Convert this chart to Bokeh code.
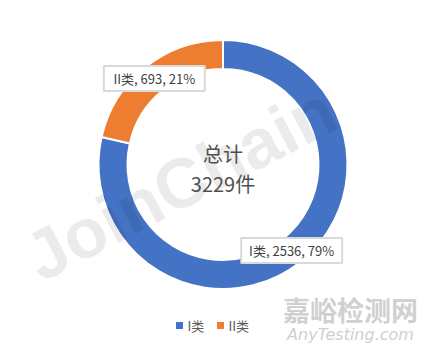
import math
from bokeh.plotting import figure
from bokeh.models import Range1d
from bokeh.core.properties import value
from bokeh.embed import file_html
from bokeh.resources import INLINE

# ---- data ----
categories = ["I类", "II类"]
counts = [2536, 693]
colors = ["#4472C4", "#ED7D31"]
center_title = "总计"
center_unit = "件"

total = sum(counts)
fracs = [c / total for c in counts]

W, H = 431, 351
CX, CY = 222.5, H - 164.0
R_OUT, R_IN = 124.5, 95.5
R_LAB = 110.0

p = figure(width=W, height=H, output_backend="svg", toolbar_location=None,
           x_range=Range1d(0, W), y_range=Range1d(0, H),
           x_axis_type=None, y_axis_type=None, min_border=0)
p.outline_line_color = None
p.grid.visible = False
p.background_fill_color = "white"
p.border_fill_color = "white"

# wedges: start at 12 o'clock, go clockwise
starts, ends, mids = [], [], []
cum = 0.0
for f in fracs:
    a0 = math.pi / 2 - 2 * math.pi * cum
    a1 = math.pi / 2 - 2 * math.pi * (cum + f)
    starts.append(a0)
    ends.append(a1)
    mids.append((a0 + a1) / 2)
    cum += f

p.annular_wedge(x=[CX] * len(counts), y=[CY] * len(counts),
                inner_radius=R_IN, outer_radius=R_OUT,
                start_angle=starts, end_angle=ends, direction="clock",
                fill_color=colors, line_color="white", line_width=2)

# watermark JoinChain
p.text(x=[180], y=[H - 183], text=["JoinChain"], angle=math.radians(27.5),
       text_font=value("Liberation Sans"), text_font_style="bold",
       text_font_size="70px", text_color="black", text_alpha=0.08,
       text_align="center", text_baseline="middle")

# data labels
lab_x = [CX + R_LAB * math.cos(a) for a in mids]
lab_y = [CY + R_LAB * math.sin(a) for a in mids]
lab_txt = [f"{c}, {v}, {round(100 * v / total)}%" for c, v in zip(categories, counts)]
p.rect(x=lab_x, y=lab_y, width=101, height=25, fill_color="white",
       line_color="#D9D9D9", line_width=2)
p.text(x=lab_x, y=lab_y, text=lab_txt, text_font=value("Noto Sans CJK SC"),
       text_font_size="13px", text_color="#404040",
       text_align="center", text_baseline="middle")

# center text
p.text(x=[CX, CX], y=[H - 153, H - 183],
       text=[center_title, f"{total}{center_unit}"],
       text_font=value("Noto Sans CJK SC"), text_font_size="20px",
       text_color="#505050", text_align="center", text_baseline="middle")

# legend
leg_sq_x = [179, 220]
leg_y = H - 325
p.scatter(x=leg_sq_x, y=[leg_y] * 2, marker="square", size=7,
          fill_color=colors, line_color=None)
p.text(x=[x + 8 for x in leg_sq_x], y=[leg_y] * 2, text=categories,
       text_font=value("Noto Sans CJK SC"), text_font_size="13px",
       text_color="#595959", text_align="left", text_baseline="middle")

# bottom-right watermark
p.text(x=[350], y=[H - 309], text=["嘉峪检测网"],
       text_font=value("Noto Sans CJK SC"), text_font_style="bold",
       text_font_size="27px", text_color="#D0D0D0",
       text_align="center", text_baseline="middle")
p.text(x=[350], y=[H - 334], text=["AnyTesting.com"],
       text_font=value("DejaVu Sans"), text_font_style="italic",
       text_font_size="16px", text_color="#D0D0D0",
       text_align="center", text_baseline="middle")

open("out.html", "w").write(file_html(p, INLINE))
